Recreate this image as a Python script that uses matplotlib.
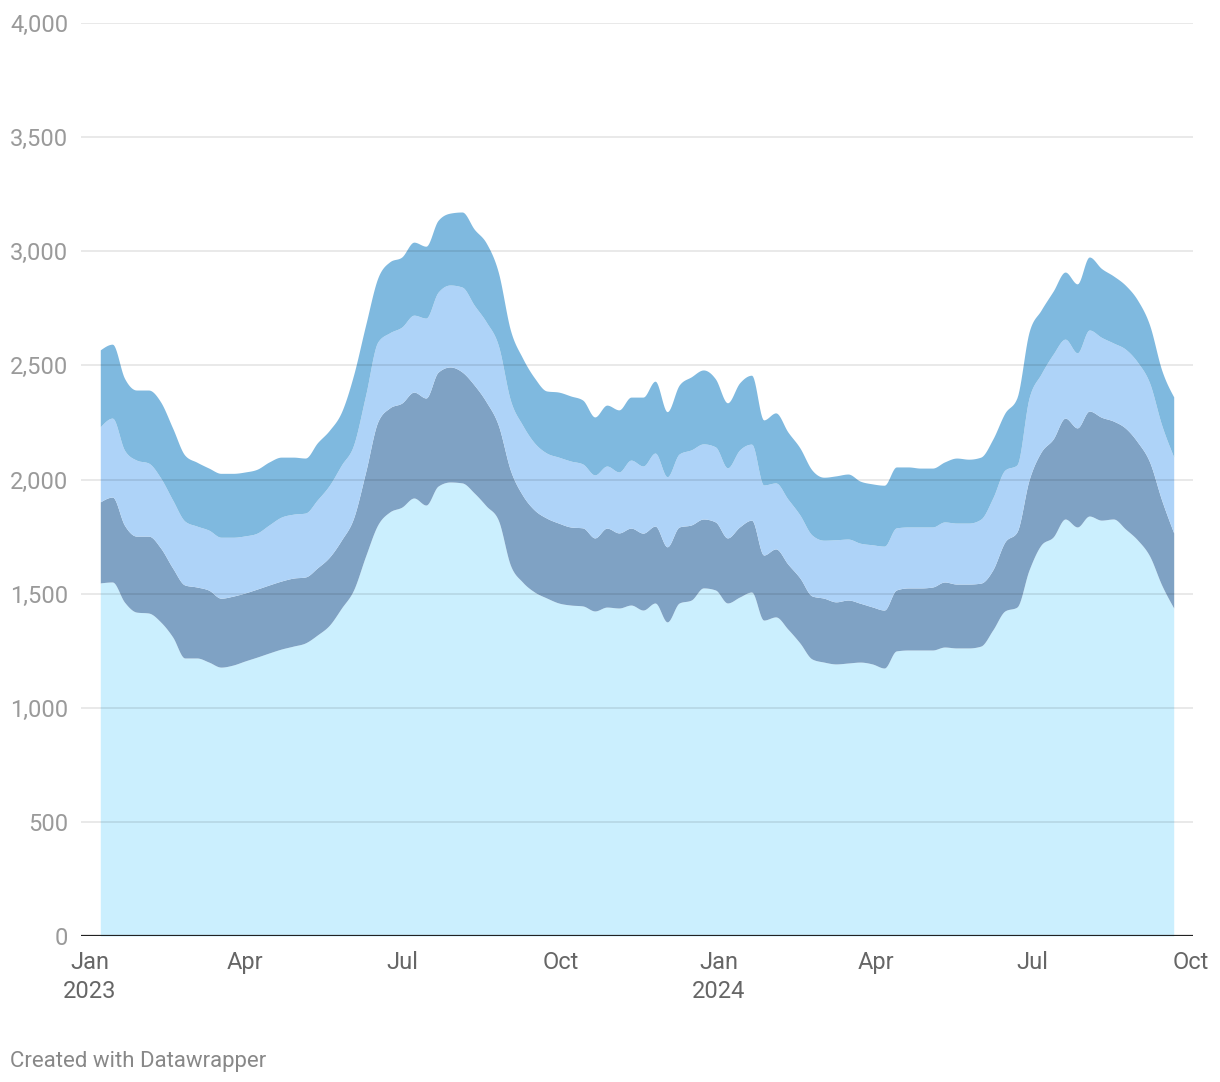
import numpy as np
import pandas as pd
import matplotlib
matplotlib.use('Agg')
import matplotlib.pyplot as plt
import matplotlib.dates as mdates
from matplotlib.ticker import FuncFormatter

plt.rcParams['font.family'] = ['Roboto', 'DejaVu Sans']

# Weekly values, Jan 2023 - Sep 2024 (four stacked series, bottom to top)
dates = pd.date_range('2023-01-07', periods=90, freq='7D')

series_a = [1547, 1551, 1463, 1419, 1415, 1376, 1310, 1218, 1218, 1200,
            1178, 1187, 1205, 1222, 1240, 1257, 1270, 1284, 1319, 1362,
            1437, 1516, 1665, 1801, 1858, 1879, 1919, 1888, 1971, 1989,
            1985, 1941, 1884, 1822, 1625, 1551, 1507, 1481, 1459, 1450,
            1446, 1424, 1441, 1437, 1450, 1428, 1459, 1376, 1459, 1472,
            1525, 1516, 1459, 1485, 1507, 1384, 1398, 1345, 1284, 1214,
            1200, 1192, 1196, 1200, 1192, 1174, 1249, 1253, 1253, 1253,
            1266, 1262, 1262, 1270, 1341, 1424, 1441, 1603, 1713, 1748,
            1827, 1792, 1840, 1822, 1827, 1783, 1735, 1665, 1538, 1437]

series_b = [355, 372, 337, 333, 337, 324, 302, 320, 311, 315,
            302, 302, 298, 298, 298, 298, 298, 289, 294, 298,
            298, 315, 368, 451, 456, 456, 464, 469, 499, 504,
            486, 473, 456, 416, 416, 381, 359, 350, 350, 342,
            342, 320, 346, 329, 337, 337, 337, 329, 333, 329,
            302, 298, 285, 307, 315, 285, 298, 285, 285, 276,
            280, 272, 276, 258, 250, 254, 267, 272, 272, 276,
            285, 280, 280, 276, 263, 302, 329, 394, 407, 429,
            442, 434, 460, 451, 429, 442, 429, 412, 372, 329]

series_c = [329, 346, 329, 333, 320, 307, 298, 280, 267, 263,
            267, 258, 250, 245, 263, 280, 280, 280, 298, 315,
            329, 320, 337, 350, 329, 333, 337, 350, 350, 359,
            372, 350, 350, 350, 307, 307, 294, 285, 289, 289,
            280, 276, 272, 267, 298, 294, 320, 307, 320, 329,
            329, 329, 307, 337, 333, 307, 289, 285, 276, 267,
            254, 272, 267, 263, 272, 280, 272, 267, 267, 263,
            263, 267, 267, 280, 315, 315, 294, 359, 342, 372,
            346, 329, 355, 350, 342, 346, 350, 346, 329, 333]

series_d = [337, 324, 315, 307, 320, 333, 315, 289, 280, 272,
            280, 280, 280, 280, 276, 263, 250, 241, 250, 241,
            232, 307, 307, 280, 311, 307, 320, 315, 315, 315,
            329, 333, 346, 320, 307, 294, 285, 272, 285, 285,
            280, 254, 267, 272, 276, 302, 315, 285, 302, 320,
            324, 298, 285, 294, 302, 285, 307, 294, 294, 285,
            276, 280, 285, 272, 267, 267, 267, 263, 258, 258,
            263, 285, 280, 272, 258, 250, 294, 289, 280, 276,
            294, 302, 320, 302, 294, 280, 272, 254, 241, 263]

colors = ['#cbeffe', '#7fa2c4', '#aed3f8', '#7fb9df']

y_ticks = [0, 500, 1000, 1500, 2000, 2500, 3000, 3500, 4000]
x_ticks = ['2023-01-01', '2023-04-01', '2023-07-01', '2023-10-01',
           '2024-01-01', '2024-04-01', '2024-07-01', '2024-10-01']
x_labels = ['Jan\n2023', 'Apr', 'Jul', 'Oct', 'Jan\n2024', 'Apr', 'Jul', 'Oct']


def monotone_curve(x, y, steps=12):
    # monotone cubic (like d3.curveMonotoneX) for drawing the stack edges
    x = np.asarray(x, float)
    y = np.asarray(y, float)
    h = np.diff(x)
    s = np.diff(y) / h
    t = np.zeros_like(y)
    for i in range(1, len(y) - 1):
        p = (s[i - 1] * h[i] + s[i] * h[i - 1]) / (h[i - 1] + h[i])
        t[i] = (np.sign(s[i - 1]) + np.sign(s[i])) * min(abs(s[i - 1]), abs(s[i]), 0.5 * abs(p))
    t[0] = (3 * s[0] - t[1]) / 2
    t[-1] = (3 * s[-1] - t[-2]) / 2
    xs, ys = [], []
    u = np.linspace(0, 1, steps, endpoint=False)
    for i in range(len(y) - 1):
        h00 = 2 * u**3 - 3 * u**2 + 1
        h10 = u**3 - 2 * u**2 + u
        h01 = -2 * u**3 + 3 * u**2
        h11 = u**3 - u**2
        xs.append(x[i] + u * h[i])
        ys.append(h00 * y[i] + h10 * h[i] * t[i] + h01 * y[i + 1] + h11 * h[i] * t[i + 1])
    xs.append([x[-1]])
    ys.append([y[-1]])
    return np.concatenate(xs), np.concatenate(ys)


fig = plt.figure(figsize=(12.2, 10.82), dpi=100)
ax = fig.add_axes([81 / 1220, (1082 - 936) / 1082, (1193 - 81) / 1220, (936 - 23) / 1082])

xnum = mdates.date2num(dates)
stack = np.cumsum([series_a, series_b, series_c, series_d], axis=0)
lower = None
for top, c in zip(stack, colors):
    xs, ys = monotone_curve(xnum, top)
    base = np.zeros_like(ys) if lower is None else lower
    ax.fill_between(xs, base, ys, color=c, lw=0, zorder=1)
    lower = ys

# gridlines drawn above the areas
for t in y_ticks[1:]:
    ax.axhline(t, color='black', alpha=0.11, lw=1.1, zorder=2)
ax.axhline(0, color='#222222', lw=1.6, zorder=3)

start = pd.Timestamp('2023-01-01') - pd.Timedelta(days=5.2)
end = pd.Timestamp('2024-10-01') + pd.Timedelta(days=1.2)
ax.set_xlim(start, end)
ax.set_ylim(0, 4000)

ax.set_yticks(y_ticks)
ax.yaxis.set_major_formatter(FuncFormatter(lambda v, p: f'{int(v):,}'))
ax.set_xticks(pd.to_datetime(x_ticks))
ax.set_xticklabels(x_labels)

ax.tick_params(axis='y', length=0, pad=9, labelsize=17, labelcolor='#9a9a9a')
ax.tick_params(axis='x', length=0, pad=11, labelsize=17, labelcolor='#666666')
for lab in ax.get_xticklabels():
    lab.set_linespacing(1.3)

for s in ax.spines.values():
    s.set_visible(False)

fig.text(10 / 1220, 1 - 1061 / 1082, 'Created with Datawrapper', fontsize=16,
         color='#888888', va='center', ha='left')

fig.savefig('out.png', dpi=100)
